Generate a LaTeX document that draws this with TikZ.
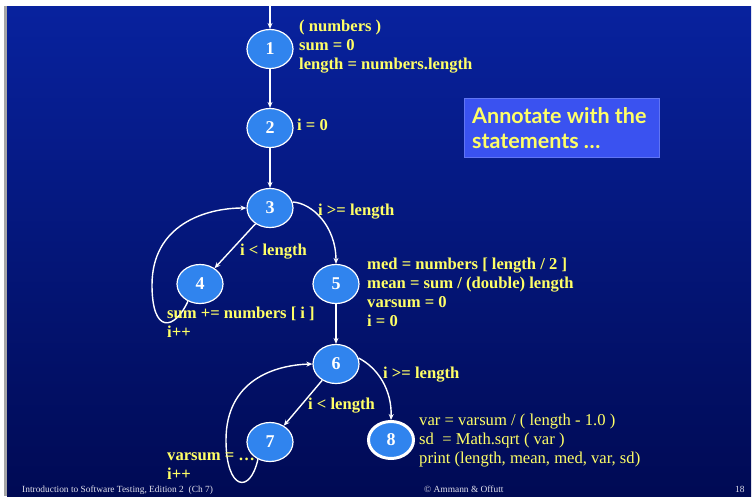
\documentclass[tikz,border=0pt]{standalone}
\usepackage{fontspec}
\setmainfont{Liberation Serif}
\newfontfamily\boxfont{Lato}
\usetikzlibrary{arrows.meta,shapes.geometric}
\definecolor{bgtop}{RGB}{8,34,158}
\definecolor{bgbot}{RGB}{0,10,84}
\definecolor{nodefill}{RGB}{48,132,238}
\definecolor{yel}{RGB}{255,255,102}
\definecolor{boxfill}{RGB}{58,82,240}
\definecolor{foot}{RGB}{225,225,235}
\begin{document}
\begin{tikzpicture}[x=1pt,y=-1pt,
  vtx/.style={ellipse,draw=white,line width=1.2pt,fill=nodefill,minimum width=46pt,minimum height=39pt,inner sep=0pt,
    text=white,font=\fontsize{18}{18}\selectfont\bfseries},
  lbl/.style={anchor=base west,inner sep=0pt,text=yel,font=\fontsize{16.6}{19}\selectfont\bfseries},
  lblr/.style={anchor=base west,inner sep=0pt,text=yel,font=\fontsize{16.6}{19}\selectfont},
  btxt/.style={anchor=base west,inner sep=0pt,text=yel,font=\boxfont\fontsize{21.5}{25}\selectfont\bfseries},
  edge/.style={draw=white,line width=1.4pt,-{Stealth[length=6pt,width=5pt]}},
  ftr/.style={anchor=base west,inner sep=0pt,text=foot,font=\fontsize{9.4}{10}\selectfont}]
\useasboundingbox (0,0) rectangle (756,496);
% background
\fill[white] (0,0) rectangle (756,496);
\shade[top color=bgtop,bottom color=bgbot] (7,6) rectangle (751,496);
\fill[gray!70] (4,6) rectangle (7,496);
% nodes
\node[vtx] (n1) at (270,49) {1};
\node[vtx] (n2) at (270,128) {2};
\node[vtx] (n3) at (270,208) {3};
\node[vtx] (n4) at (200,284) {4};
\node[vtx] (n5) at (336,284) {5};
\node[vtx] (n6) at (336,364) {6};
\node[vtx] (n7) at (270,442) {7};
\node[vtx,line width=3pt,minimum width=45pt,minimum height=37pt] (n8) at (391,440) {8};
\coordinate (in) at (270,0);
% edges
\draw[edge] (in) -- (n1);
\draw[edge] (n1) -- (n2);
\draw[edge] (n2) -- (n3);
\draw[edge] (n3) -- (n4);
\draw[edge] (n3.15) .. controls (312,203) and (336,226) .. (n5.north);
\draw[edge] (n4.235) .. controls (175,330) and (152,335) .. (152,285) .. controls (152,225) and (205,208) .. (n3.west);
\draw[edge] (n5) -- (n6);
\draw[edge] (n6) -- (n7);
\draw[edge] (n6.15) .. controls (378,368) and (392,390) .. (n8.north);
\draw[edge] (n7.235) .. controls (250,495) and (226,490) .. (226,440) .. controls (226,380) and (275,365) .. (n6.west);
% labels
\node[lbl] (l1a) at (299,31) {( numbers )};
\node[lbl] (l1b) at (299,50) {sum = 0};
\node[lbl] (l1c) at (299,69) {length = numbers.length};
\node[lbl] (l2) at (297,130) {i = 0};
\node[lbl] (l3) at (318,215) {i >= length};
\node[lbl] (l34) at (240,255) {i < length};
\node[lbl] (l5a) at (367,269) {med = numbers [ length / 2 ]};
\node[lbl] (l5b) at (367,288) {mean = sum / (double) length};
\node[lbl] (l5c) at (367,307) {varsum = 0};
\node[lbl] (l5d) at (367,326) {i = 0};
\node[lbl] (l4a) at (167,318) {sum += numbers [ i ]};
\node[lbl] (l4b) at (167,337) {i++};
\node[lbl] (l6) at (383,378) {i >= length};
\node[lbl] (l67) at (308,409) {i < length};
\node[lblr] (l8a) at (419,425) {var = varsum / ( length - 1.0 )};
\node[lblr] (l8b) at (419,444) {sd\ \ = Math.sqrt ( var )};
\node[lblr] (l8c) at (419,463) {print (length, mean, med, var, sd)};
\node[lbl] (l7a) at (167,460) {varsum = …};
\node[lbl] (l7b) at (167,479) {i++};
% annotate box
\node[fill=boxfill,draw=boxfill!80!white,line width=0.6pt,minimum width=195pt,minimum height=59pt,anchor=north west] (box) at (464,98) {};
\node[btxt] (bt1) at (472,123) {Annotate with the};
\node[btxt] (bt2) at (472,148) {statements …};
% footer
\node[ftr] (f1) at (22,492) {Introduction to Software Testing, Edition 2\ \ (Ch 7)};
\node[ftr] (f2) at (424,492) {© Ammann \& Offutt};
\node[ftr] (f3) at (735,492) {18};
\end{tikzpicture}
\end{document}
